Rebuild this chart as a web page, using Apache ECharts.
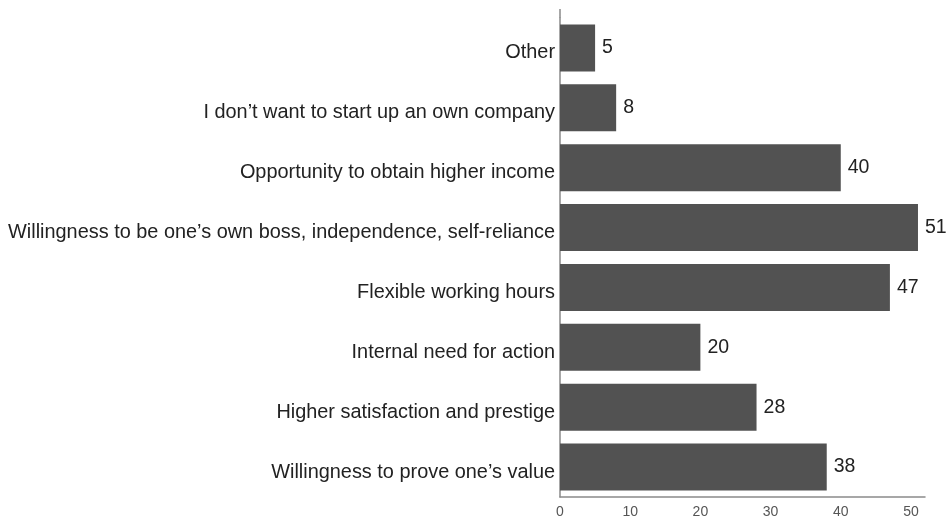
<!DOCTYPE html>
<html>
<head>
<meta charset="utf-8">
<style>
  html, body { margin: 0; padding: 0; background: #fff; }
  #chart { width: 949px; height: 520px; }
</style>
<script src="https://cdn.jsdelivr.net/npm/echarts@6/dist/echarts.min.js"></script>
</head>
<body>
<div id="chart"></div>
<script>
// Reasons for starting up an own company (listed top to bottom)
const categories = [
  "Other",
  "I don\u2019t want to start up an own company",
  "Opportunity to obtain higher income",
  "Willingness to be one\u2019s own boss, independence, self-reliance",
  "Flexible working hours",
  "Internal need for action",
  "Higher satisfaction and prestige",
  "Willingness to prove one\u2019s value"
];
const values = [5, 8, 40, 51, 47, 20, 28, 38];
const axisTicks = [0, 10, 20, 30, 40, 50];

const chart = echarts.init(document.getElementById('chart'), null, { renderer: 'canvas' });

chart.setOption({
  animation: false,
  backgroundColor: '#ffffff',
  textStyle: { fontFamily: 'Liberation Sans, Arial, sans-serif' },
  grid: { left: 560, right: 24, top: 18, bottom: 23, containLabel: false },
  xAxis: {
    type: 'value',
    min: axisTicks[0],
    max: 52,
    interval: 10,
    splitLine: { show: false },
    axisLine: { show: true, lineStyle: { color: '#8a8a8a', width: 1.5 } },
    axisTick: { show: false },
    axisLabel: {
      color: '#555',
      fontSize: 14,
      margin: 8,
      showMaxLabel: false,
      formatter: v => (axisTicks.includes(v) ? String(v) : '')
    }
  },
  yAxis: {
    type: 'category',
    data: categories,
    inverse: true,
    axisLine: { show: true, lineStyle: { color: '#8a8a8a', width: 1.5 } },
    axisTick: { show: false },
    // labels sit a little below the bar centre
    axisLabel: { color: '#222', fontSize: 19.9, margin: 5, verticalAlign: 'top', lineHeight: 10 }
  },
  series: [{
    type: 'bar',
    data: values,
    barWidth: 47,
    itemStyle: { color: '#525252' },
    label: {
      show: true,
      position: 'right',
      distance: 7,
      color: '#222',
      fontSize: 19.5
    }
  }],
  graphic: [{
    type: 'line',
    shape: { x1: 560, y1: 9, x2: 560, y2: 18 },
    style: { stroke: '#8a8a8a', lineWidth: 1.5 }
  }]
});
</script>
</body>
</html>
